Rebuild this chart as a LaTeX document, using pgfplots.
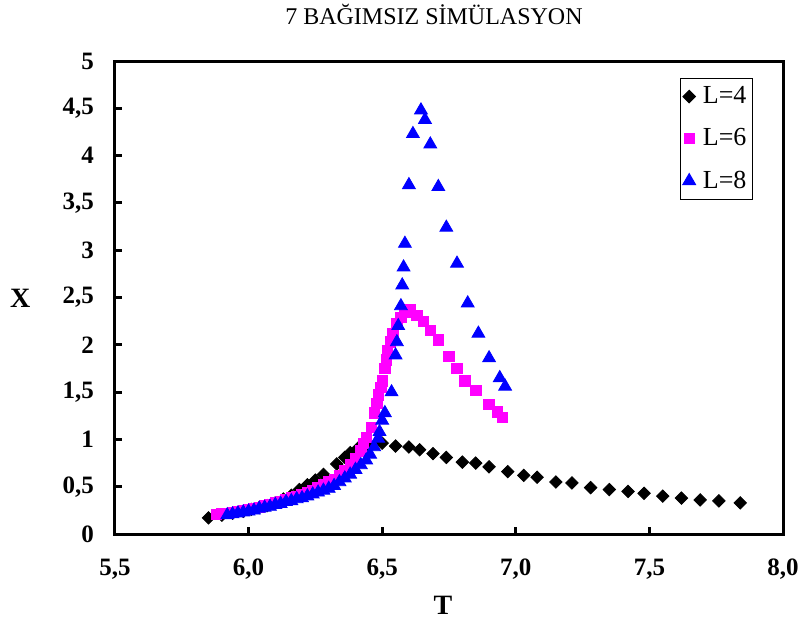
\documentclass[border=0pt]{standalone}
\usepackage{fontspec}
\setmainfont{Liberation Serif}
\usepackage{pgfplots}
\pgfplotsset{compat=1.18}
\definecolor{mag}{RGB}{255,0,255}
\definecolor{blu}{RGB}{0,0,255}
\begin{document}
\begin{tikzpicture}
\begin{axis}[
  scale only axis,
  width=334pt, height=236.5pt,
  xmin=5.5, xmax=8.0, ymin=0, ymax=5,
  xtick={5.5,6.0,6.5,7.0,7.5,8.0},
  ytick={0,0.5,1,1.5,2,2.5,3,3.5,4,4.5,5},
  axis line style={line width=1.5pt},
  tick style={line width=1.5pt, black},
  major tick length=3.5pt,
  tick align=inside,
  xtick pos=bottom, ytick pos=left,
  x tick label style={font=\fontsize{12.5}{14}\selectfont\bfseries, yshift=-9pt,
    /pgf/number format/.cd, fixed, fixed zerofill, precision=1, use comma, assume math mode=true},
  y tick label style={font=\fontsize{12.5}{14}\selectfont\bfseries, xshift=-7pt,
    /pgf/number format/.cd, use comma, assume math mode=true},
  title={7 BAĞIMSIZ SİMÜLASYON},
  title style={font=\fontsize{12}{14}\selectfont, at={(axis description cs:0.4775,1.074)}, anchor=center},
  xlabel={T}, ylabel={X},
  xlabel style={font=\fontsize{14}{16}\selectfont\bfseries, at={(axis description cs:0.491,-0.15)}, anchor=center},
  ylabel style={font=\fontsize{14}{16}\selectfont\bfseries, at={(axis description cs:-0.142,0.499)}, anchor=center, rotate=-90},
  legend style={at={(axis description cs:0.955,0.964)}, anchor=north east,
    draw=black, line width=0.5pt, font=\fontsize{13}{15}\selectfont,
    row sep=7pt, inner xsep=1pt, inner ysep=2pt},
  legend cell align=left,
  legend image code/.code={\path (0.8pt,0pt) (8pt,0pt); \draw[#1] plot coordinates {(3.4pt,0pt)};},
]
\addplot[only marks, mark=square*, mark size=2.2pt, mark options={rotate=45, fill=black, draw=black}] coordinates {
(5.85,0.17)(5.90,0.20)(5.94,0.22)(5.98,0.24)(6.01,0.26)(6.04,0.28)(6.07,0.30)
(6.10,0.33)(6.13,0.37)(6.16,0.41)(6.19,0.47)(6.22,0.52)(6.25,0.57)(6.28,0.63)
(6.33,0.74)(6.36,0.81)(6.38,0.86)(6.41,0.91)(6.45,0.94)(6.50,0.96)(6.55,0.93)
(6.60,0.92)(6.64,0.89)(6.69,0.85)(6.74,0.81)(6.80,0.76)(6.85,0.75)(6.90,0.71)
(6.97,0.66)(7.03,0.62)(7.08,0.60)(7.15,0.55)(7.21,0.54)(7.28,0.49)(7.35,0.47)
(7.42,0.45)(7.48,0.43)(7.55,0.40)(7.62,0.38)(7.69,0.36)(7.76,0.35)(7.84,0.33)
};
\addplot[only marks, mark=square*, mark size=2.6pt, mark options={fill=mag, draw=mag}] coordinates {
(5.88,0.21)(5.90,0.22)(5.92,0.22)(5.94,0.23)(5.96,0.24)(5.98,0.25)(6.00,0.26)
(6.02,0.27)(6.04,0.28)(6.06,0.30)(6.08,0.31)(6.10,0.33)(6.12,0.34)(6.14,0.36)
(6.16,0.38)(6.18,0.40)(6.20,0.42)(6.22,0.44)(6.24,0.46)(6.26,0.49)(6.28,0.52)
(6.30,0.55)(6.32,0.58)(6.34,0.62)(6.36,0.67)(6.38,0.73)(6.40,0.80)(6.42,0.88)
(6.43,0.96)(6.44,1.02)(6.46,1.13)(6.47,1.28)(6.48,1.38)(6.485,1.47)(6.495,1.55)
(6.50,1.62)(6.51,1.75)(6.515,1.84)(6.52,1.94)(6.53,2.03)(6.54,2.12)(6.555,2.22)
(6.57,2.29)(6.585,2.34)(6.605,2.37)(6.63,2.31)(6.655,2.25)(6.68,2.15)(6.71,2.05)
(6.75,1.88)(6.78,1.75)(6.81,1.62)(6.85,1.52)(6.90,1.37)(6.93,1.29)(6.95,1.23)
};
\addplot[only marks, mark=triangle*, mark size=3.7pt, mark options={fill=blu, draw=blu}] coordinates {
(5.92,0.20)(5.94,0.21)(5.96,0.22)(5.98,0.23)(6.00,0.24)(6.02,0.25)(6.04,0.27)
(6.06,0.28)(6.08,0.29)(6.10,0.31)(6.12,0.32)(6.14,0.34)(6.16,0.35)(6.18,0.37)
(6.20,0.38)(6.22,0.40)(6.24,0.42)(6.26,0.44)(6.28,0.46)(6.30,0.48)(6.32,0.51)
(6.34,0.55)(6.36,0.59)(6.38,0.63)(6.40,0.68)(6.42,0.73)(6.44,0.78)(6.455,0.84)
(6.47,0.92)(6.485,1.01)(6.49,1.08)(6.50,1.20)(6.51,1.28)(6.535,1.50)(6.55,1.89)
(6.555,2.03)(6.56,2.20)(6.57,2.41)(6.575,2.63)(6.58,2.82)(6.585,3.07)(6.60,3.69)
(6.615,4.23)(6.645,4.48)(6.66,4.38)(6.68,4.12)(6.71,3.67)(6.74,3.24)(6.78,2.86)
(6.82,2.44)(6.86,2.12)(6.90,1.86)(6.94,1.65)(6.96,1.56)
};
\legend{L=4,L=6,L=8}
\end{axis}
\pgfresetboundingbox
\path[use as bounding box] ([shift={(-57.5pt,-47.5pt)}]current axis.south west) rectangle ([shift={(343.5pt,267pt)}]current axis.south west);
\end{tikzpicture}
\end{document}
